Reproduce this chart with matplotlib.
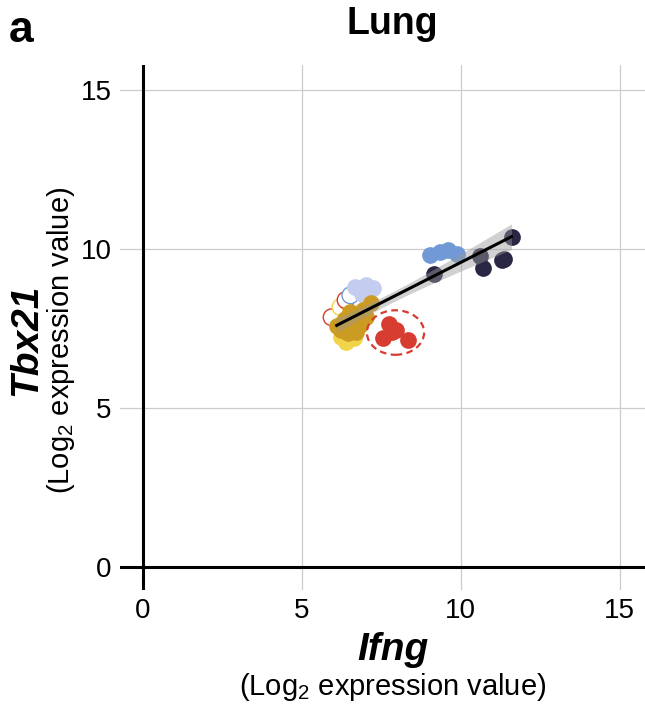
import numpy as np
import matplotlib
matplotlib.use("Agg")
import matplotlib.pyplot as plt
from matplotlib.patches import Ellipse

plt.rcParams['font.family'] = ['Liberation Sans', 'DejaVu Sans']
plt.rcParams['mathtext.fontset'] = 'custom'
plt.rcParams['mathtext.rm'] = 'Liberation Sans'

# groups (Ifng, Tbx21), log2 expression
navy_x = [9.15, 10.7, 11.35, 10.6, 11.6, 11.3]
navy_y = [9.22, 9.42, 9.7, 9.8, 10.38, 9.65]

blue_x = [9.05, 9.35, 9.6, 9.9]
blue_y = [9.82, 9.9, 9.97, 9.85]

lav_x = [6.69, 7.03, 7.25, 6.84, 6.9]
lav_y = [8.8, 8.87, 8.77, 8.71, 8.6]

gold_x = [7.19, 6.94, 6.72, 6.53, 6.31, 6.25, 6.47, 6.84, 6.72, 7.03, 6.1, 6.4, 6.6, 6.35, 6.55]
gold_y = [8.3, 8.08, 7.92, 8.02, 7.7, 7.45, 7.36, 7.61, 7.39, 7.86, 7.6, 7.55, 7.7, 7.8, 7.5]

yel_x = [6.4, 6.22, 6.63, 6.3]
yel_y = [7.08, 7.23, 7.2, 7.4]

red_x = [7.75, 7.85, 7.55, 8.35, 7.95]
red_y = [7.65, 7.4, 7.2, 7.15, 7.45]

# open circles
open_x = [5.94, 6.22, 6.47, 6.69, 6.38, 6.53]
open_y = [7.86, 8.18, 8.3, 8.33, 8.4, 8.55]
open_c = ['#d63c30', '#f2d44a', '#f2d44a', '#d4a72c', '#d63c30', '#7099d6']

fig = plt.figure(figsize=(6.45, 7.13), dpi=100)
ax = fig.add_axes([0.186, 0.1725, 0.814, 0.7365])

ax.set_xlim(-0.72, 15.8)
ax.set_ylim(-0.72, 15.8)
for s in ax.spines.values():
    s.set_visible(False)
ax.set_xticks([0, 5, 10, 15])
ax.set_yticks([0, 5, 10, 15])
ax.grid(True, color='#cccccc', lw=0.9)
ax.set_axisbelow(True)
ax.tick_params(length=0, labelsize=20, pad=6)
ax.axhline(0, color='black', lw=2.2, zorder=2)
ax.axvline(0, color='black', lw=2.2, zorder=2)

sz = 145
ax.scatter(open_x, open_y, s=sz, facecolors='white', edgecolors=open_c, lw=1.0, zorder=3)
ax.scatter(lav_x, lav_y, s=sz, color='#c4ccf0', lw=0, zorder=3)
ax.scatter(yel_x, yel_y, s=sz, color='#f2d44a', lw=0, zorder=3)
ax.scatter(gold_x, gold_y, s=sz, color='#cc9c22', lw=0, zorder=3)
ax.scatter(blue_x, blue_y, s=sz, color='#7099d6', lw=0, zorder=3)
ax.scatter(navy_x, navy_y, s=sz, color='#2a2745', lw=0, zorder=3)
ax.scatter(red_x, red_y, s=sz, color='#d63c30', lw=0, zorder=3)

ax.add_patch(Ellipse((7.95, 7.38), 1.8, 1.4, fill=False, ec='#d63c30', ls=(0, (3, 2)), lw=1.6, zorder=4))

# linear fit with confidence band
fx = np.array(navy_x + blue_x + lav_x + gold_x + yel_x)
fy = np.array(navy_y + blue_y + lav_y + gold_y + yel_y)
b, a = np.polyfit(fx, fy, 1)
n = len(fx)
resid = fy - (a + b * fx)
se = np.sqrt(np.sum(resid ** 2) / (n - 2))
xs = np.linspace(fx.min(), fx.max(), 100)
ys = a + b * xs
ci = 2.03 * se * np.sqrt(1 / n + (xs - fx.mean()) ** 2 / np.sum((fx - fx.mean()) ** 2))
ax.fill_between(xs, ys - ci, ys + ci, color='#999999', alpha=0.45, lw=0, zorder=5)
ax.plot(xs, ys, color='black', lw=2.2, zorder=6)

fig.text(0.609, 0.966, 'Lung', ha='center', va='center', fontsize=27, fontweight='bold')
fig.text(0.014, 0.957, 'a', ha='left', va='center', fontsize=32, fontweight='bold')

fig.text(0.609, 0.088, 'Ifng', ha='center', va='center', fontsize=28, fontweight='bold', style='italic')
fig.text(0.609, 0.036, '(Log$_2$ expression value)', ha='center', va='center', fontsize=21)
fig.text(0.04, 0.523, 'Tbx21', ha='center', va='center', rotation=90, fontsize=28, fontweight='bold', style='italic')
fig.text(0.095, 0.523, '(Log$_2$ expression value)', ha='center', va='center', rotation=90, fontsize=21)

fig.savefig('out.png', dpi=100)
